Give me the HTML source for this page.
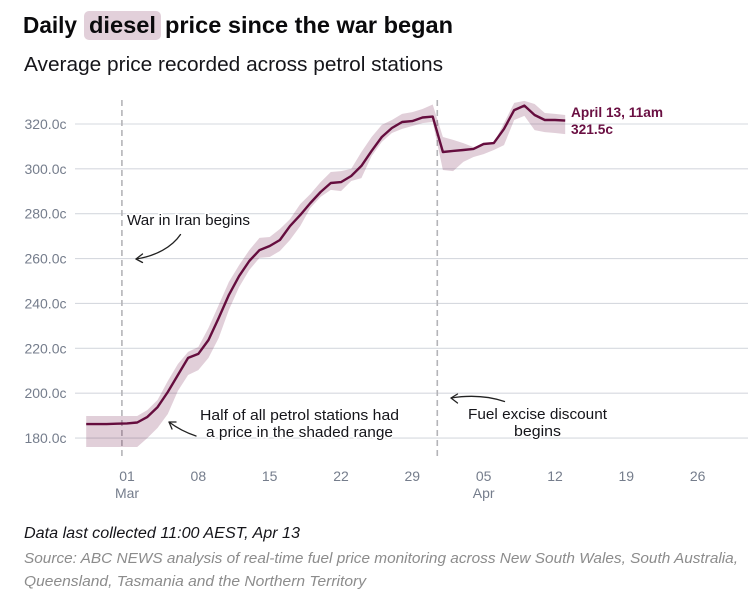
<!DOCTYPE html>
<html lang="en">
<head>
<meta charset="utf-8">
<title>Daily diesel price since the war began</title>
<style>
html,body{margin:0;padding:0;background:#fff;}
body{width:748px;height:593px;overflow:hidden;}
svg{display:block;font-family:"Liberation Sans",sans-serif;}
.note{font-size:14.5px;fill:#15151a;paint-order:stroke;stroke:#fff;stroke-width:3px;stroke-linejoin:round;}
.arrow{fill:none;stroke:#222;stroke-width:1.3;stroke-linecap:round;stroke-linejoin:round;}
</style>
</head>
<body>
<svg id="chart" width="748" height="593" viewBox="0 0 748 593">
  <rect x="84" y="11" width="77" height="29" rx="5" fill="#e2d0da"/>
  <g font-size="23" font-weight="700" fill="#0a0a0c">
    <text x="23" y="33" textLength="54" lengthAdjust="spacingAndGlyphs">Daily</text>
    <text x="89" y="33" textLength="67" lengthAdjust="spacingAndGlyphs">diesel</text>
    <text x="165" y="33" textLength="288" lengthAdjust="spacingAndGlyphs">price since the war began</text>
  </g>
  <text x="24" y="71" font-size="20" fill="#15151a" textLength="419" lengthAdjust="spacingAndGlyphs">Average price recorded across petrol stations</text>

  <g id="grid"></g>
  <g id="yticks"></g>
  <g id="xticks"></g>
  <g id="events"></g>
  <g id="series"></g>

  <text class="note" x="127" y="225" textLength="123" lengthAdjust="spacingAndGlyphs">War in Iran begins</text>
  <g class="arrow">
    <path d="M180.500 234.500C172 247 156 256 136 259"/>
    <path d="M142.500 254L136 259L142.500 262.500"/>
  </g>
  <text class="note" x="200" y="420" textLength="199" lengthAdjust="spacingAndGlyphs">Half of all petrol stations had</text>
  <text class="note" x="206" y="437" textLength="187" lengthAdjust="spacingAndGlyphs">a price in the shaded range</text>
  <g class="arrow">
    <path d="M196 436C187 433 177 428 169 422"/>
    <path d="M176 422L169 422L172 429"/>
  </g>
  <text class="note" x="468" y="419" textLength="139" lengthAdjust="spacingAndGlyphs">Fuel excise discount</text>
  <text class="note" x="514" y="436" textLength="47" lengthAdjust="spacingAndGlyphs">begins</text>
  <g class="arrow">
    <path d="M504.500 401.500C488 396 470 395 451 398"/>
    <path d="M457.500 394L451 398L457.500 403"/>
  </g>

  <g font-size="14" font-weight="700" fill="#6a0f42">
    <text x="571" y="117" textLength="92" lengthAdjust="spacingAndGlyphs">April 13, 11am</text>
    <text x="571" y="134" textLength="42" lengthAdjust="spacingAndGlyphs">321.5c</text>
  </g>

  <text x="24" y="538" font-size="15.5" font-style="italic" fill="#15151a" textLength="276" lengthAdjust="spacingAndGlyphs">Data last collected 11:00 AEST, Apr 13</text>
  <g font-size="15" font-style="italic" fill="#8c8c8c">
    <text x="24" y="563" textLength="714" lengthAdjust="spacingAndGlyphs">Source: ABC NEWS analysis of real-time fuel price monitoring across New South Wales, South Australia,</text>
    <text x="24" y="586" textLength="342" lengthAdjust="spacingAndGlyphs">Queensland, Tasmania and the Northern Territory</text>
  </g>
</svg>

<script>
// Days are counted from 1 March (day 0). Series start on 25 Feb (day -4).
const firstDay = -4;
const priceValues = [186.2,186.2,186.2,186.4,186.5,186.9,189.4,193.8,200.5,208.1,215.7,217.5,223.7,233.5,243.8,252.2,258.9,263.8,265.6,268.3,274.5,279.4,284.8,289.7,293.7,294.1,296.8,301.3,308,314.2,318.2,320.9,321.3,322.9,323.3,307.5,308,308.4,308.9,311.1,311.5,317.8,326.2,328.2,324,321.8,321.8,321.5];
const upperValues = [189.8,189.8,189.8,189.8,189.8,189.8,192.5,197,205.4,213,218.4,220.6,229.1,239.3,249.6,257.1,263.8,269.2,269.6,273.2,277.6,284.3,288.8,294.1,298.6,299,300,307.5,314.2,319.6,321.8,324.5,325.3,326.7,328.7,314.2,312.9,311.5,309.7,311.1,311.5,320.4,329.4,330.3,328.9,324.9,324.5,324];
const lowerValues = [176,176,176,176,176,176,180,184.5,190.7,201,208.1,210.3,215.7,224.6,237.1,247.3,254.9,260.3,260.7,263.4,268.3,274.5,282.6,287.5,290.6,290.1,294.6,295.9,305.7,312,316,317.8,319.1,320.4,320.9,299.5,299,303.1,305.3,306.6,308.4,310.6,321.8,323.6,317.3,316.4,316,315.5];
const yTickValues = [180,200,220,240,260,280,300,320];
const xTickDays = [0,7,14,21,28,35,42,49,56];
const xTickLabels = ["01","08","15","22","29","05","12","19","26"];
const monthDays = [0,35];
const monthLabels = ["Mar","Apr"];
const eventDays = [-0.5,30.45];

const NS = "http://www.w3.org/2000/svg";
function xScale(day){ return 127 + day * 10.19; }
function yScale(value){ return 124 + (320 - value) * 2.243; }
function pt(i, arr){ return xScale(firstDay + i).toFixed(1) + "," + yScale(arr[i]).toFixed(1); }
function make(tag, parent){
  const el = document.createElementNS(NS, tag);
  parent.appendChild(el);
  return el;
}

const grid = document.getElementById("grid");
const yticks = document.getElementById("yticks");
yTickValues.forEach(function(v){
  const line = make("line", grid);
  
  
  line.setAttribute("x1", 75);
  line.setAttribute("x2", 748);
  line.setAttribute("y1", yScale(v));
  line.setAttribute("y2", yScale(v));
  line.setAttribute("stroke", "#d6d9df");
  line.setAttribute("stroke-width", 1.1);
  const t = make("text", yticks);
  
  
  t.setAttribute("x", 66.5);
  t.setAttribute("y", yScale(v) + 5);
  t.setAttribute("text-anchor", "end");
  t.setAttribute("font-size", 14);
  t.setAttribute("fill", "#757d8c");
  t.textContent = v.toFixed(1) + "c";
});

const xticks = document.getElementById("xticks");
xTickDays.forEach(function(d, i){
  const t = make("text", xticks);
  
  
  t.setAttribute("x", xScale(d));
  t.setAttribute("y", 481);
  t.setAttribute("text-anchor", "middle");
  t.setAttribute("font-size", 14);
  t.setAttribute("fill", "#757d8c");
  t.textContent = xTickLabels[i];
});
monthDays.forEach(function(d, i){
  const t = make("text", xticks);
  
  
  t.setAttribute("x", xScale(d));
  t.setAttribute("y", 498);
  t.setAttribute("text-anchor", "middle");
  t.setAttribute("font-size", 14);
  t.setAttribute("fill", "#757d8c");
  t.textContent = monthLabels[i];
});

const events = document.getElementById("events");
const series = document.getElementById("series");

const upperPts = upperValues.map(function(_, i){ return pt(i, upperValues); });
const lowerPts = lowerValues.map(function(_, i){ return pt(i, lowerValues); }).reverse();
const band = make("polygon", series);


band.setAttribute("points", upperPts.concat(lowerPts).join(" "));
band.setAttribute("fill", "#6a0f42");
band.setAttribute("fill-opacity", "0.2");

eventDays.forEach(function(d){
  const line = make("line", events);
  
  
  line.setAttribute("x1", xScale(d));
  line.setAttribute("x2", xScale(d));
  line.setAttribute("y1", 100);
  line.setAttribute("y2", 460);
  line.setAttribute("stroke", "#b4b4b8");
  line.setAttribute("stroke-width", 1.6);
  line.setAttribute("stroke-dasharray", "6 4");
});

const priceLine = make("polyline", series);


priceLine.setAttribute("points", priceValues.map(function(_, i){ return pt(i, priceValues); }).join(" "));
priceLine.setAttribute("fill", "none");
priceLine.setAttribute("stroke", "#650d3e");
priceLine.setAttribute("stroke-width", 2.4);
priceLine.setAttribute("stroke-linejoin", "round");
</script>
</body>
</html>
